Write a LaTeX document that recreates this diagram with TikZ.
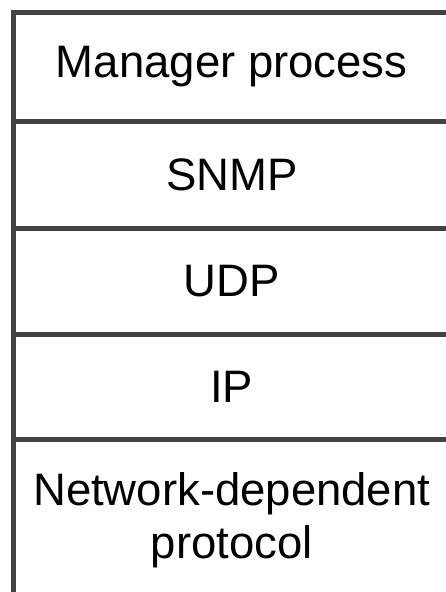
\documentclass[tikz,border=0pt]{standalone}
\usepackage{fontspec}
\setmainfont{Liberation Sans}
\usetikzlibrary{positioning}

\definecolor{framegray}{RGB}{66,66,66}

\begin{document}
\begin{tikzpicture}[
  x=1pt, y=1pt,
  layer/.style={rectangle, draw=framegray, line width=5pt, outer sep=0pt,
    inner sep=0pt, minimum width=436.5pt, align=center,
    font=\fontsize{45.5}{53}\selectfont}
  ]
  \useasboundingbox (0,0) rectangle (446,-592);
  \clip (0,0) rectangle (446,-592);

  % Protocol stack, top to bottom
  \node[layer, minimum height=109pt, anchor=north west] (manager) at (13.5,-12) {Manager process};
  \node[layer, minimum height=107pt, below=0pt of manager] (snmp) {SNMP};
  \node[layer, minimum height=106pt, below=0pt of snmp] (udp) {UDP};
  \node[layer, minimum height=105pt, below=0pt of udp] (ip) {IP};
  \node[layer, minimum height=162pt, below=0pt of ip] (netproto) {Network-dependent\\protocol};
\end{tikzpicture}
\end{document}
